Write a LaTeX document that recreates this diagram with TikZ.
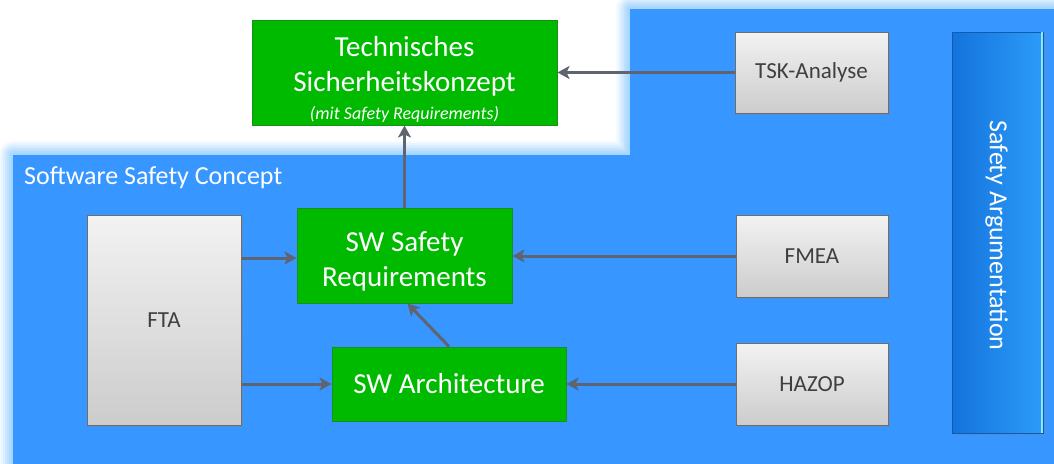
\documentclass[tikz,border=0pt]{standalone}
\usepackage{fontspec}
\setmainfont{Carlito}
\usetikzlibrary{arrows.meta,shadows,calc}
\definecolor{areablue}{HTML}{3796FF}
\definecolor{glowblue}{HTML}{A8D6FF}
\definecolor{boxgreen}{HTML}{00BA00}
\definecolor{greenline}{HTML}{1A8F1A}
\definecolor{grayline}{HTML}{6E6E6E}
\definecolor{graytext}{HTML}{3F3F3F}
\definecolor{arrowgray}{HTML}{5F6470}
\definecolor{argdark}{HTML}{1473DD}
\definecolor{arglight}{HTML}{2C9CF8}
\definecolor{argedge}{HTML}{8FE6FF}
\tikzset{
  greenbox/.style={draw=greenline, line width=1pt, fill=boxgreen, text=white,
    align=center, inner sep=2pt},
  graybox/.style={draw=grayline, line width=1pt, top color=black!5, bottom color=black!20,
    text=graytext, align=center, font=\fontsize{23}{28}\selectfont,
    drop shadow={shadow xshift=1.5pt, shadow yshift=-1.5pt, opacity=0.35}},
  flow/.style={draw=arrowgray, line width=3pt,
    -{Stealth[length=12pt, width=13pt, inset=3pt]}},
}
\begin{document}
\begin{tikzpicture}[x=1pt, y=-1pt]
  \useasboundingbox (0,0) rectangle (1054,463);
  \fill[white] (0,0) rectangle (1054,463);

  % L-shaped safety concept area with a soft glow round its edge
  \def\area{(630,9) -- (1060,9) -- (1060,470) -- (13,470) -- (13,155) -- (630,155) -- cycle}
  \foreach \w/\o in {28/0.12, 24/0.15, 20/0.2, 16/0.28, 12/0.38, 8/0.55, 4/0.8}{
    \draw[glowblue, opacity=\o, line width=\w pt, line join=round] \area;
  }
  \fill[areablue] \area;

  \node[anchor=north west, text=white, font=\fontsize{26}{31}\selectfont, inner sep=0pt]
    (sscl) at (24,166) {Software Safety Concept};

  % safety argumentation bar
  \node[minimum width=91pt, minimum height=401pt, left color=argdark, right color=arglight,
    draw=argdark!80!black, line width=0.6pt,
    drop shadow={shadow xshift=1.5pt, shadow yshift=-2pt, opacity=0.35}]
    (arg) at (997.5,232.5) {};
  \draw[argedge, line width=2pt] ([xshift=-1pt]arg.north east) -- ([xshift=-1pt]arg.south east);
  \node[rotate=-90, text=white, font=\fontsize{26}{31}\selectfont] (argl) at ([xshift=-1pt,yshift=-3pt]arg.center)
    {Safety Argumentation};

  % work products
  \node[greenbox, minimum width=305pt, minimum height=105pt, font=\fontsize{29}{35}\selectfont]
    (tech) at (404.5,72.5)
    {\rule{0pt}{34pt}Technisches\\Sicherheitskonzept\\[-7pt]
     {\fontsize{18}{22}\selectfont\itshape (mit Safety Requirements)}};
  \node[greenbox, minimum width=215pt, minimum height=95pt, font=\fontsize{29}{35}\selectfont]
    (swsr) at (404.5,255.5) {\rule{0pt}{31pt}SW Safety\\Requirements};
  \node[greenbox, minimum width=234pt, minimum height=74pt, font=\fontsize{29}{35}\selectfont]
    (swarch) at (449,384) {SW Architecture};

  % analyses
  \node[graybox, minimum width=153pt, minimum height=81pt] (tsk) at (811.5,72.5) {TSK-Analyse};
  \node[graybox, minimum width=154pt, minimum height=210pt] (fta) at (164,320) {FTA};
  \node[graybox, minimum width=152pt, minimum height=82pt] (fmea) at (812,256) {FMEA};
  \node[graybox, minimum width=152pt, minimum height=82pt] (hazop) at (812,384) {HAZOP};

  % connectors
  \draw[flow] (tsk.west) -- (tech.east);
  \draw[flow] (swsr.north) -- (tech.south);
  \draw[flow] (fta.east |- 0,258) -- (swsr.west |- 0,258);
  \draw[flow] (fta.east |- swarch.west) -- (swarch.west);
  \draw[flow] (fmea.west) -- (swsr.east |- fmea.west);
  \draw[flow] (hazop.west) -- (swarch.east);
  \draw[flow] (swarch.north) -- ([xshift=3pt]swsr.south);
\end{tikzpicture}
\end{document}
